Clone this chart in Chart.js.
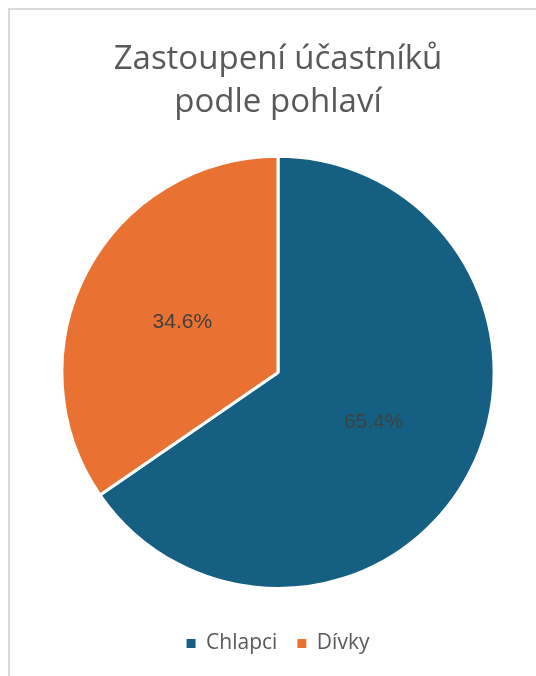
<!DOCTYPE html>
<html>
<head>
<meta charset="utf-8">
<script src="https://cdn.jsdelivr.net/npm/chart.js@4.4.1/dist/chart.umd.min.js"></script>
<style>
  html, body { margin: 0; padding: 0; background: #ffffff; }
  #wrap { position: relative; width: 536px; height: 676px; }
</style>
</head>
<body>
<div id="wrap"><canvas id="c" width="536" height="676"></canvas></div>
<script>
// Gender breakdown of participants (percent)
const categories = ['Chlapci', 'Dívky'];
const shares = [65.4, 34.6];
const sliceColors = ['#156082', '#E97132'];
const titleLines = ['Zastoupení účastníků', 'podle pohlaví'];

// Light frame around the chart panel
const framePlugin = {
  id: 'frame',
  beforeDraw(chart) {
    const ctx = chart.ctx;
    ctx.save();
    ctx.fillStyle = '#ffffff';
    ctx.fillRect(0, 0, chart.width, chart.height);
    ctx.strokeStyle = '#d9d9d9';
    ctx.lineWidth = 2;
    ctx.beginPath();
    ctx.moveTo(9, chart.height);
    ctx.lineTo(9, 9);
    ctx.lineTo(chart.width, 9);
    ctx.stroke();
    ctx.restore();
  }
};

// Percentage labels placed inside each slice
const sliceLabelPlugin = {
  id: 'sliceLabels',
  afterDatasetsDraw(chart) {
    const ctx = chart.ctx;
    const meta = chart.getDatasetMeta(0);
    const data = chart.data.datasets[0].data;
    ctx.save();
    ctx.font = '21px "Liberation Sans", Arial, sans-serif';
    ctx.fillStyle = '#404040';
    ctx.textAlign = 'center';
    ctx.textBaseline = 'middle';
    meta.data.forEach((arc, i) => {
      const p = arc.tooltipPosition();
      ctx.fillText(data[i].toFixed(1) + '%', p.x, p.y);
    });
    ctx.restore();
  }
};

new Chart(document.getElementById('c'), {
  type: 'pie',
  data: {
    labels: categories,
    datasets: [{
      data: shares,
      backgroundColor: sliceColors,
      borderColor: '#ffffff',
      borderWidth: 3,
      hoverOffset: 0
    }]
  },
  options: {
    responsive: false,
    animation: false,
    layout: { padding: { left: 20, right: 0, top: 0, bottom: 12 } },
    plugins: {
      title: {
        display: true,
        text: titleLines,
        color: '#595959',
        font: { family: '"Open Sans", sans-serif', size: 33, weight: 'normal', lineHeight: 1.3 },
        padding: { top: 38, bottom: 31 }
      },
      legend: {
        display: true,
        position: 'bottom',
        title: {
          // empty heading used only as spacing above the legend items
          display: true,
          text: '',
          font: { size: 1, lineHeight: 1 },
          padding: { top: 22, bottom: 0 }
        },
        labels: {
          color: '#595959',
          font: { family: '"Open Sans", sans-serif', size: 21 },
          boxWidth: 9,
          boxHeight: 9,
          padding: 20,
          generateLabels(chart) {
            const items = Chart.overrides.pie.plugins.legend.labels.generateLabels(chart);
            items.forEach(item => { item.lineWidth = 0; });
            return items;
          }
        }
      },
      tooltip: { enabled: false }
    }
  },
  plugins: [framePlugin, sliceLabelPlugin]
});
</script>
</body>
</html>
